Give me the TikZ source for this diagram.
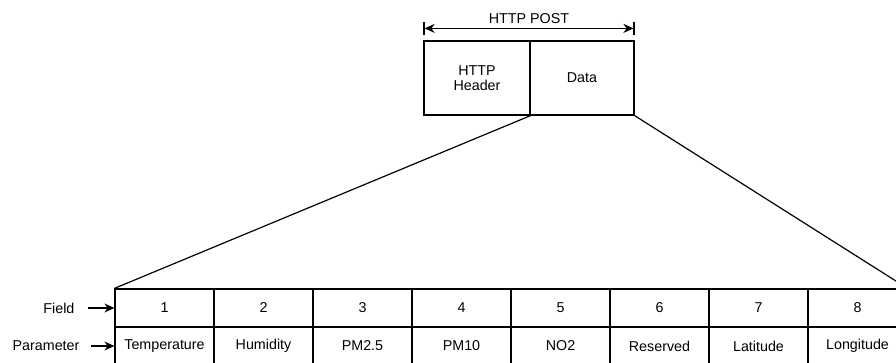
\documentclass[tikz,border=0pt]{standalone}
\usepackage{fontspec}
\setmainfont{Liberation Sans}
\usetikzlibrary{arrows.meta, calc}
\begin{document}
\begin{tikzpicture}[x=1pt, y=-1pt, line width=1.2pt,
		every node/.style = {font=\fontsize{14.3}{15.5}\selectfont, align=center},
		box/.style = {shape=rectangle, draw, minimum height=74pt, inner sep=0pt},
		cell/.style = {shape=rectangle, draw, minimum width=99pt, minimum height=38pt, inner sep=0pt},
		rowlabel/.style = {anchor=east, inner sep=0pt},
		tip/.style = {-{Stealth[length=10pt, width=9pt]}}]
		\useasboundingbox (0,0) rectangle (896,363);
		% packet on top
		\node[box, minimum width=106pt] (hdr) at (477,78) {HTTP\\Header};
		\node[box, minimum width=104pt] (data) at (582,78) {Data};
		\draw[{Bar[width=13pt]Stealth[length=10pt, width=9pt]}-{Stealth[length=10pt, width=9pt]Bar[width=13pt]}]
			(hdr.north west) ++(0,-12) coordinate (dimL) -- (data.north east |- dimL) coordinate (dimR);
		\node (post) at ($(dimL)!0.5!(dimR)$) [above=1pt] {HTTP POST};
		% data fields
		\foreach \i/\p in {1/Temperature, 2/Humidity, 3/PM2.5, 4/PM10, 5/NO2, 6/Reserved, 7/Latitude, 8/Longitude} {
			\node[cell] (f\i) at (65.5+99*\i,308) {\i};
			\node[cell] (p\i) at (65.5+99*\i,346) {\p};
		}
		\node[rowlabel] (lblField) at (75,308) {Field};
		\node[rowlabel] (lblParam) at (80,346) {Parameter};
		\draw[tip] ([xshift=13pt]lblField.east) -- (f1.west);
		\draw[tip] ([xshift=11pt]lblParam.east) -- (p1.west);
		% expansion lines
		\draw (hdr.south east) -- (f1.north west);
		\draw (data.south east) -- (f8.north east);
	\end{tikzpicture}
\end{document}
